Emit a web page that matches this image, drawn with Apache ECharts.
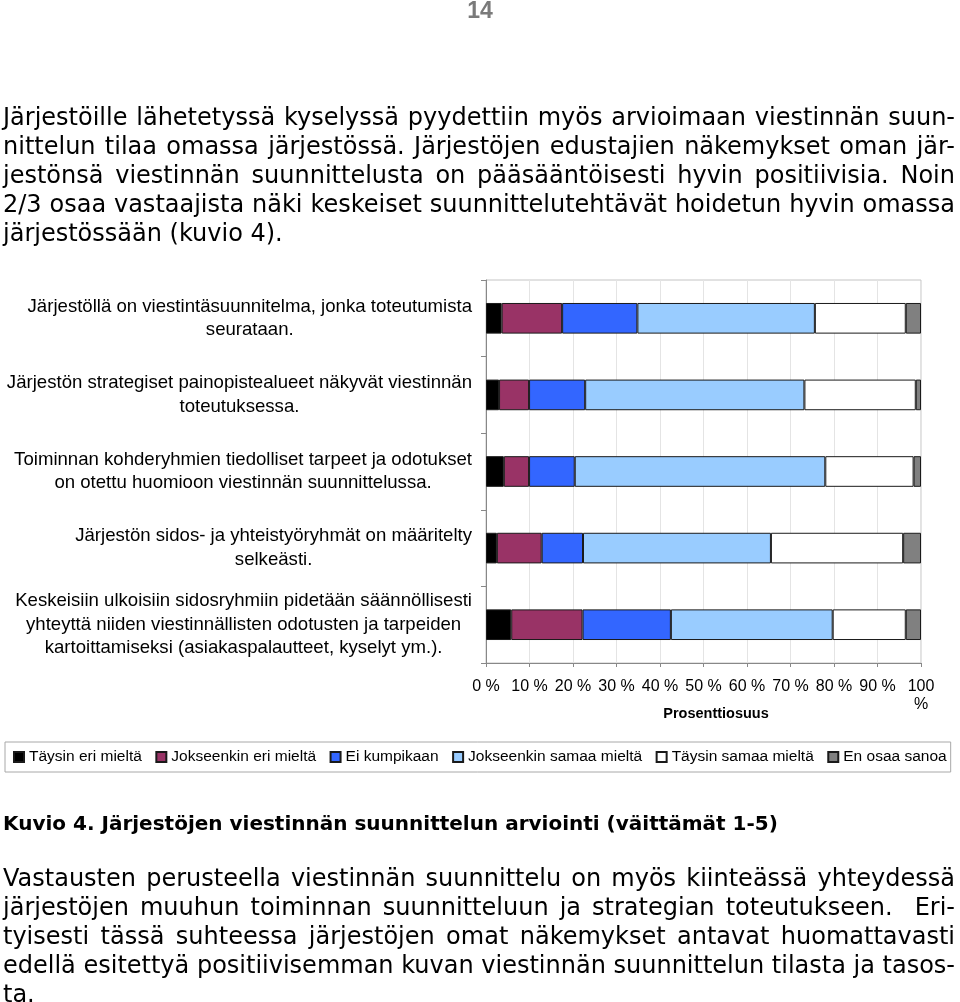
<!DOCTYPE html>
<html>
<head>
<meta charset="utf-8">
<script src="https://cdn.jsdelivr.net/npm/echarts@6/dist/echarts.min.js"></script>
<style>
  html, body { margin: 0; padding: 0; background: #fff; }
  #page { position: relative; width: 960px; height: 1002px; overflow: hidden; }
  #chart { position: absolute; left: 0; top: 0; width: 960px; height: 1002px; }
  .txt { position: absolute; left: 3px; width: 952px; font-family: "DejaVu Sans", sans-serif;
         font-size: 24px; color: #000; line-height: 29px; white-space: nowrap; }
  .j { text-align: justify; text-align-last: justify; white-space: normal; }
  #pnum { position: absolute; left: 0; width: 960px; top: -3px; text-align: center; font-family: "Liberation Sans Narrow", "Liberation Sans", sans-serif;
          font-weight: bold; font-size: 23px; color: #7a7a7a; }
  #caption { position: absolute; left: 3px; top: 811px; font-family: "DejaVu Sans", sans-serif;
             font-weight: bold; font-size: 20px; }
</style>
</head>
<body>
<div id="page">
  <div id="chart"></div>
  <div id="pnum">14</div>
  <div class="txt j" style="top:103px">Järjestöille lähetetyssä kyselyssä pyydettiin myös arvioimaan viestinnän suun-</div>
  <div class="txt j" style="top:132px">nittelun tilaa omassa järjestössä. Järjestöjen edustajien näkemykset oman jär-</div>
  <div class="txt j" style="top:161px">jestönsä viestinnän suunnittelusta on pääsääntöisesti hyvin positiivisia. Noin</div>
  <div class="txt j" style="top:190px">2/3 osaa vastaajista näki keskeiset suunnittelutehtävät hoidetun hyvin omassa</div>
  <div class="txt" style="top:219px">järjestössään (kuvio 4).</div>

  <div id="caption">Kuvio 4. Järjestöjen viestinnän suunnittelun arviointi (väittämät 1-5)</div>

  <div class="txt j" style="top:864px">Vastausten perusteella viestinnän suunnittelu on myös kiinteässä yhteydessä</div>
  <div class="txt j" style="top:893px">järjestöjen muuhun toiminnan suunnitteluun ja strategian toteutukseen.&nbsp; Eri-</div>
  <div class="txt j" style="top:922px">tyisesti tässä suhteessa järjestöjen omat näkemykset antavat huomattavasti</div>
  <div class="txt j" style="top:951px">edellä esitettyä positiivisemman kuvan viestinnän suunnittelun tilasta ja tasos-</div>
  <div class="txt" style="top:980px">ta.</div>
</div>
<script type="text/javascript">
// väittämät (ylhäältä alas)
var categories = [
  'Järjestöllä on viestintäsuunnitelma, jonka toteutumista\nseurataan.',
  'Järjestön strategiset painopistealueet näkyvät viestinnän\ntoteutuksessa.',
  'Toiminnan kohderyhmien tiedolliset tarpeet ja odotukset\non otettu huomioon viestinnän suunnittelussa.',
  'Järjestön sidos- ja yhteistyöryhmät on määritelty\nselkeästi.',
  'Keskeisiin ulkoisiin sidosryhmiin pidetään säännöllisesti\nyhteyttä niiden viestinnällisten odotusten ja tarpeiden\nkartoittamiseksi (asiakaspalautteet, kyselyt ym.).'
];
var seriesNames = ['Täysin eri mieltä', 'Jokseenkin eri mieltä', 'Ei kumpikaan',
  'Jokseenkin samaa mieltä', 'Täysin samaa mieltä', 'En osaa sanoa'];
var colors = ['#000000', '#993366', '#3366ff', '#99ccff', '#ffffff', '#808080'];

// prosenttiosuudet
var taysinEri       = [3.6, 3.0, 4.1, 2.5, 5.8];
var jokseenkinEri   = [13.9, 6.9, 5.8, 10.3, 16.4];
var eiKumpikaan     = [17.3, 12.9, 10.5, 9.5, 20.3];
var jokseenkinSamaa = [40.8, 50.4, 57.6, 43.2, 37.2];
var taysinSamaa     = [20.9, 25.6, 20.3, 30.4, 16.8];
var enOsaa          = [3.5, 1.2, 1.7, 4.1, 3.5];
var values = [taysinEri, jokseenkinEri, eiKumpikaan, jokseenkinSamaa, taysinSamaa, enOsaa];

var chart = echarts.init(document.getElementById('chart'));

var series = seriesNames.map(function (name, i) {
  return {
    name: name,
    type: 'bar',
    stack: 'total',
    barWidth: '40%',
    itemStyle: { color: colors[i], borderColor: '#1a1a1a', borderWidth: 1 },
    data: values[i]
  };
});

var option = {
  animation: false,
  textStyle: { fontFamily: 'Liberation Sans' },
  grid: {
    left: 486, right: 39, top: 280, bottom: 339,
    show: true, borderColor: '#c4c4c4', borderWidth: 1
  },
  legend: {
    left: 5, top: 742,
    padding: [7, 4, 7, 8],
    itemGap: 13.5,
    itemWidth: 10, itemHeight: 10,
    borderColor: '#a8a8a8', borderWidth: 1, borderRadius: 0,
    textStyle: { fontSize: 15.5, color: '#000', fontFamily: 'Liberation Sans' },
    data: seriesNames.map(function (n) { return { name: n, icon: 'rect' }; })
  },
  xAxis: {
    type: 'value',
    min: 0, max: 100, interval: 10,
    name: 'Prosenttiosuus',
    nameLocation: 'middle',
    nameGap: 43,
    nameMoveOverlap: false,
    nameTextStyle: { fontWeight: 'bold', fontSize: 14.5, color: '#000', fontFamily: 'Liberation Sans', padding: [0, 0, 0, 25] },
    axisLine: { show: true, lineStyle: { color: '#888' } },
    axisTick: { show: true, length: 4, lineStyle: { color: '#888' } },
    axisLabel: {
      color: '#000', fontSize: 16, margin: 15, lineHeight: 18,
      formatter: function (v) { return v === 100 ? '100\n%' : v + ' %'; }
    },
    splitLine: { show: true, lineStyle: { color: '#e4e4e4' } }
  },
  yAxis: {
    type: 'category',
    inverse: true,
    data: categories,
    axisLine: { show: true, lineStyle: { color: '#888' } },
    axisTick: { show: true, length: 5, lineStyle: { color: '#888' } },
    axisLabel: {
      margin: 14,
      formatter: function (v) {
        return v.split('\n').map(function (l) { return '{c|' + l + '}'; }).join('\n');
      },
      rich: {
        c: { align: 'center', fontSize: 18.6, lineHeight: 23.5, color: '#000', fontFamily: 'Liberation Sans' }
      }
    }
  },
  series: series
};

chart.setOption(option);
</script>
</body>
</html>
